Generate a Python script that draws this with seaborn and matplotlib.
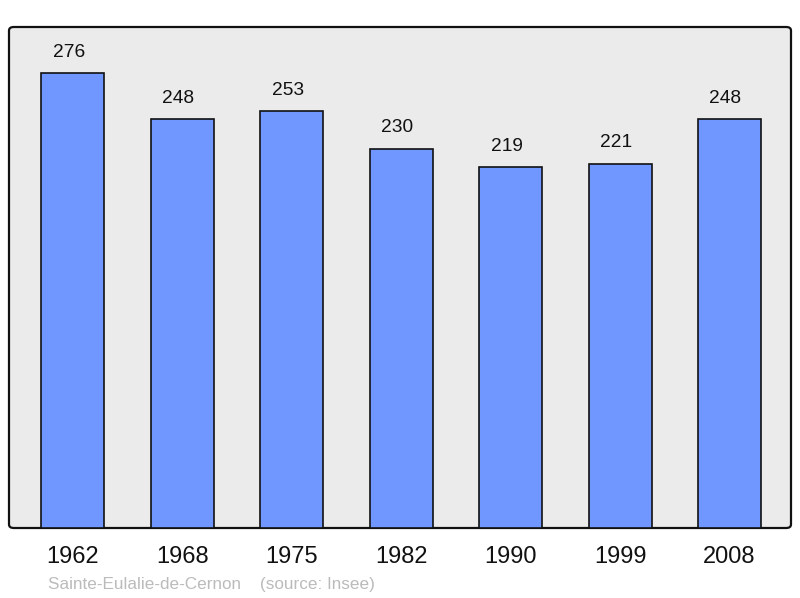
import pandas as pd
import matplotlib.pyplot as plt
import seaborn as sns
from matplotlib.patches import FancyBboxPatch

annees = ["1962", "1968", "1975", "1982", "1990", "1999", "2008"]
population = [276, 248, 253, 230, 219, 221, 248]
commune = "Sainte-Eulalie-de-Cernon"
source = "(source: Insee)"

df = pd.DataFrame({"annee": annees, "pop": population})

sns.set_theme(style="white")
plt.rcParams["font.family"] = ["Liberation Sans", "DejaVu Sans"]

fig = plt.figure(figsize=(8, 5.98), dpi=100)
ax = fig.add_axes([9 / 800, 1 - 528 / 598, 782 / 800, 501 / 598])
ax.set_facecolor("none")

# fond gris à coins arrondis
fond = FancyBboxPatch((9 / 800, 1 - 528 / 598), 782 / 800, 501 / 598,
                      boxstyle="round,pad=0,rounding_size=0.006",
                      transform=fig.transFigure, facecolor="#ebebeb",
                      edgecolor="#111111", linewidth=1.6, zorder=-1)
fig.patches.append(fond)

sns.barplot(data=df, x="annee", y="pop", color="#7097ff", saturation=1,
            width=0.575, edgecolor="#111111", linewidth=1.2, ax=ax)

for i, v in enumerate(population):
    ax.annotate(str(v), (i, v), xytext=(-3, 9), textcoords="offset points",
                ha="center", va="bottom", fontsize=13.8, color="#111111")

ax.set_xlim(-0.584, 6.562)
ax.set_ylim(0, 304)
ax.set_yticks([])
ax.set_xlabel("")
ax.set_ylabel("")
for s in ax.spines.values():
    s.set_visible(False)
ax.tick_params(axis="x", length=0, pad=13, labelsize=17, labelcolor="#111111")

fig.text(48 / 800, 1 - 584 / 598, commune + "    " + source,
         fontsize=12.3, color="#bbbbbb", va="center", ha="left")

fig.savefig("out.png", dpi=100)
